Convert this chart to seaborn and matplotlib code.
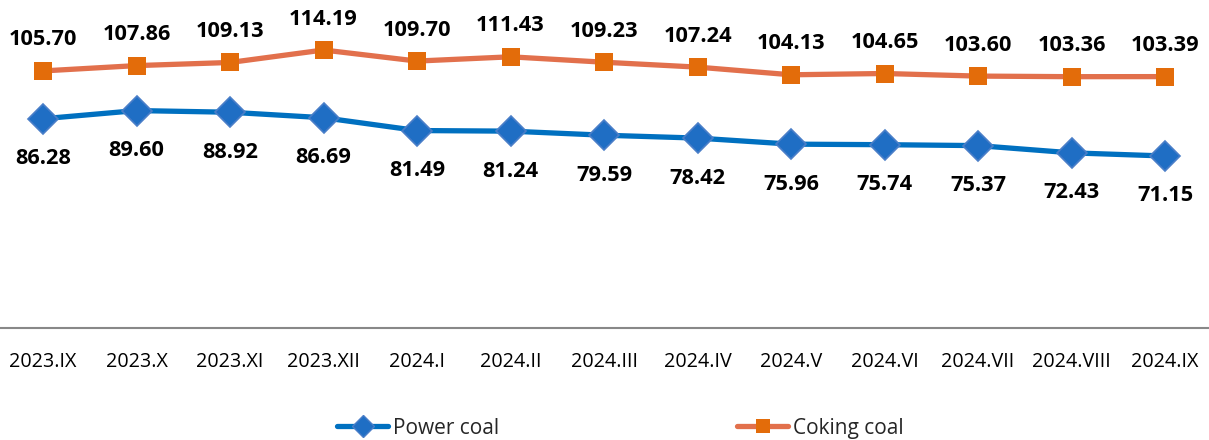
import matplotlib
matplotlib.use("Agg")
import matplotlib.pyplot as plt
import seaborn as sns
import pandas as pd
import numpy as np
from matplotlib.lines import Line2D

months = ["2023.IX", "2023.X", "2023.XI", "2023.XII", "2024.I", "2024.II", "2024.III",
          "2024.IV", "2024.V", "2024.VI", "2024.VII", "2024.VIII", "2024.IX"]
power_coal = [86.28, 89.60, 88.92, 86.69, 81.49, 81.24, 79.59, 78.42, 75.96, 75.74, 75.37, 72.43, 71.15]
coking_coal = [105.70, 107.86, 109.13, 114.19, 109.70, 111.43, 109.23, 107.24, 104.13, 104.65, 103.60, 103.36, 103.39]

sns.set_theme(style="white")
plt.rcParams['font.family'] = ['Open Sans', 'DejaVu Sans']

fig = plt.figure(figsize=(12.09, 4.40), dpi=100)
ax = fig.add_axes([0, (440 - 328) / 440, 1, 328 / 440])

idx = np.arange(len(months))
df = pd.DataFrame({"pos": np.concatenate([idx, idx]),
                   "value": power_coal + coking_coal,
                   "series": ["Power coal"] * len(months) + ["Coking coal"] * len(months)})

blue_line = "#0070C0"
blue_mark = "#1F6EC4"
blue_edge = "#4A7EC8"
orange_line = "#E2704C"
orange_mark = "#E36C0A"

sns.lineplot(data=df[df.series == "Power coal"], x="pos", y="value", ax=ax,
             color=blue_line, linewidth=3.8, marker="D", markersize=15,
             markerfacecolor=blue_mark, markeredgecolor=blue_edge, markeredgewidth=1.2)
sns.lineplot(data=df[df.series == "Coking coal"], x="pos", y="value", ax=ax,
             color=orange_line, linewidth=3.8, marker="s", markersize=13,
             markerfacecolor=orange_mark, markeredgecolor=orange_mark, markeredgewidth=0)

for i, (p, c) in enumerate(zip(power_coal, coking_coal)):
    ax.annotate(f"{p:.2f}", (i, p), xytext=(0, -40), textcoords="offset pixels",
                ha="center", va="center", fontsize=15.7, fontweight="bold", color="#000000")
    ax.annotate(f"{c:.2f}", (i, c), xytext=(0, 31), textcoords="offset pixels",
                ha="center", va="center", fontsize=15.7, fontweight="bold", color="#000000")

ax.set_xlim(-0.46, 12.47)
ax.set_ylim(1.3, 134.5)
ax.set_xticks(idx)
ax.set_xticklabels(months, fontsize=14.2, color="#000000")
ax.tick_params(axis="x", length=0, pad=17)
ax.set_yticks([])
ax.set_xlabel("")
ax.set_ylabel("")
for s in ["top", "left", "right"]:
    ax.spines[s].set_visible(False)
ax.spines["bottom"].set_color("#888888")
ax.spines["bottom"].set_linewidth(1.5)

handles = [
    Line2D([], [], color=blue_line, linewidth=3.8, marker="D", markersize=11,
           markerfacecolor=blue_mark, markeredgecolor=blue_edge, markeredgewidth=1.0),
    Line2D([], [], color=orange_line, linewidth=3.8, marker="s", markersize=10,
           markerfacecolor=orange_mark, markeredgecolor=orange_mark, markeredgewidth=0),
]
fig.legend(handles, ["Power coal", "Coking coal"], loc="center", bbox_to_anchor=(0.5133, 1 - 428 / 440),
           ncol=2, frameon=False, fontsize=15, handlelength=2.45, handletextpad=0.25,
           columnspacing=11.4)

fig.savefig("out.png", dpi=100)
